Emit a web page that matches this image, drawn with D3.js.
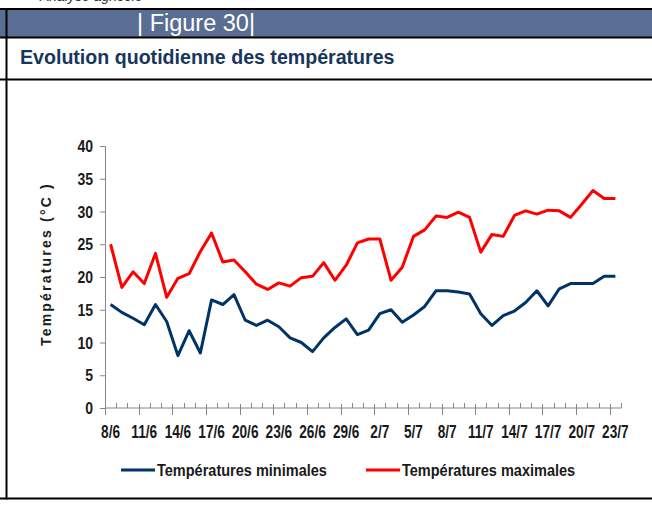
<!DOCTYPE html>
<html lang="fr">
<script src="https://d3js.org/d3.v7.min.js"></script>
<head>
    <meta charset="UTF-8">
    <title>Figure 30</title>
    <style>
        body { margin: 0; background: #ffffff; }
        svg { display: block; }
        .narrow { font-family: "Liberation Sans", Arial, sans-serif; font-weight: bold; }
    </style>
</head>
<body>
    <svg width="652" height="518" id="chart"></svg>

    <script>
        // data
        const dates = ["8/6","9/6","10/6","11/6","12/6","13/6","14/6","15/6","16/6","17/6","18/6","19/6",
            "20/6","21/6","22/6","23/6","24/6","25/6","26/6","27/6","28/6","29/6","30/6","1/7",
            "2/7","3/7","4/7","5/7","6/7","7/7","8/7","9/7","10/7","11/7","12/7","13/7",
            "14/7","15/7","16/7","17/7","18/7","19/7","20/7","21/7","22/7","23/7"];
        const tMin = [15.8, 14.6, 13.7, 12.7, 15.8, 13.2, 8.0, 11.8, 8.4, 16.5, 15.8, 17.3,
            13.4, 12.6, 13.4, 12.4, 10.7, 10.0, 8.6, 10.7, 12.3, 13.6, 11.2, 11.9,
            14.4, 15.0, 13.1, 14.2, 15.5, 17.9, 17.9, 17.7, 17.4, 14.4, 12.6, 14.1,
            14.8, 16.1, 17.9, 15.6, 18.2, 19.0, 19.0, 19.0, 20.1, 20.1];
        const tMax = [25.0, 18.4, 20.8, 19.0, 23.6, 16.9, 19.8, 20.5, 23.9, 26.7, 22.3, 22.6,
            20.8, 18.9, 18.1, 19.1, 18.6, 19.9, 20.1, 22.2, 19.5, 21.8, 25.2, 25.8,
            25.8, 19.5, 21.5, 26.2, 27.2, 29.3, 29.1, 29.9, 29.1, 23.8, 26.5, 26.2,
            29.4, 30.1, 29.6, 30.2, 30.1, 29.1, 31.1, 33.2, 32.0, 32.0];
        const xLabels = ["8/6","11/6","14/6","17/6","20/6","23/6","26/6","29/6","2/7","5/7","8/7","11/7","14/7","17/7","20/7","23/7"];
        const yTicks = [0, 5, 10, 15, 20, 25, 30, 35, 40];
        const seriesNames = ["Températures minimales", "Températures maximales"];
        const seriesColors = ["#003366", "#ff0000"];

        const svg = d3.select('#chart');

        // page frame (running header above is cut by the page edge)
        svg.append("text")
            .attr("x", 40)
            .attr("y", 1)
            .attr("font-family", "Liberation Sans, Arial, sans-serif")
            .attr("font-style", "italic")
            .attr("font-size", 14)
            .attr("fill", "#333")
            .text("Analyse agricole");

        svg.append("rect")
            .attr("x", 0).attr("y", 10)
            .attr("width", 652).attr("height", 27)
            .attr("fill", "#5a6d93");

        [9, 37.5, 79.5, 498.5].forEach(y => {
            svg.append("line")
                .attr("x1", 0).attr("x2", 652)
                .attr("y1", y).attr("y2", y)
                .attr("stroke", "#000").attr("stroke-width", 2.2);
        });
        svg.append("line")
            .attr("x1", 6.5).attr("x2", 6.5)
            .attr("y1", 8).attr("y2", 499.5)
            .attr("stroke", "#000").attr("stroke-width", 2);

        svg.append("text")
            .attr("x", 137)
            .attr("y", 31)
            .attr("font-family", "Liberation Sans, Arial, sans-serif")
            .attr("font-size", 23.5)
            .attr("fill", "#fff")
            .text("| Figure 30|");

        svg.append("text")
            .attr("x", 20)
            .attr("y", 64)
            .attr("font-family", "Liberation Sans, Arial, sans-serif")
            .attr("font-weight", "bold")
            .attr("font-size", 19.6)
            .attr("fill", "#17365d")
            .text("Evolution quotidienne des températures");

        // scales
        const x = d3.scaleBand().domain(dates).range([105, 621]);
        const y = d3.scaleLinear().domain([0, 40]).range([408, 146]);
        const step = x.bandwidth();

        // y axis
        const yAxis = svg.append("g")
            .attr("transform", "translate(105,0)")
            .call(d3.axisLeft(y).tickValues(yTicks).tickSize(5).tickFormat(""));
        yAxis.select(".domain").attr("stroke", "#868686");
        yAxis.selectAll(".tick line").attr("stroke", "#868686");
        yTicks.forEach(v => {
            svg.append("text")
                .attr("class", "narrow")
                .attr("transform", `translate(93,${y(v) + 6}) scale(0.85,1)`)
                .attr("text-anchor", "end")
                .attr("font-size", 16.5)
                .attr("fill", "#1a1a1a")
                .text(v);
        });

        // x axis
        svg.append("line")
            .attr("x1", 105).attr("x2", 621.5)
            .attr("y1", y(0)).attr("y2", y(0))
            .attr("stroke", "#868686");
        const bounds = dates.map(d => x(d)).concat([x(dates[dates.length - 1]) + step]);
        bounds.forEach((b, i) => {
            const major = i % 3 === 0;
            svg.append("line")
                .attr("x1", Math.round(b) + 0.5).attr("x2", Math.round(b) + 0.5)
                .attr("y1", major ? y(0) - 4 : y(0) - 5)
                .attr("y2", major ? y(0) + 7 : y(0))
                .attr("stroke", "#868686");
        });
        xLabels.forEach(lbl => {
            svg.append("text")
                .attr("class", "narrow")
                .attr("transform", `translate(${x(lbl) + step / 2},437.5) scale(0.78,1)`)
                .attr("text-anchor", "middle")
                .attr("font-size", 17.5)
                .attr("fill", "#1a1a1a")
                .text(lbl);
        });

        // y axis title
        svg.append("text")
            .attr("transform", "translate(51,264) rotate(-90)")
            .attr("text-anchor", "middle")
            .attr("font-family", "Liberation Sans, Arial, sans-serif")
            .attr("font-weight", "bold")
            .attr("font-size", 14)
            .attr("letter-spacing", 2.2)
            .attr("fill", "#1a1a1a")
            .text("Températures  (°C )");

        // lines
        const line = d3.line()
            .x((d, i) => x(dates[i]) + step / 2)
            .y(d => y(d));
        [tMin, tMax].forEach((s, k) => {
            svg.append("path")
                .datum(s)
                .attr("d", line)
                .attr("fill", "none")
                .attr("stroke", seriesColors[k])
                .attr("stroke-width", 3)
                .attr("stroke-linejoin", "round");
        });

        // legend
        const legX = [121, 366];
        seriesNames.forEach((name, k) => {
            svg.append("line")
                .attr("x1", legX[k]).attr("x2", legX[k] + 34)
                .attr("y1", 470).attr("y2", 470)
                .attr("stroke", seriesColors[k])
                .attr("stroke-width", 3);
            svg.append("text")
                .attr("class", "narrow")
                .attr("transform", `translate(${legX[k] + 36},476) scale(0.88,1)`)
                .attr("font-size", 16.5)
                .attr("fill", "#1a1a1a")
                .text(name);
        });
    </script>
</body>
</html>
